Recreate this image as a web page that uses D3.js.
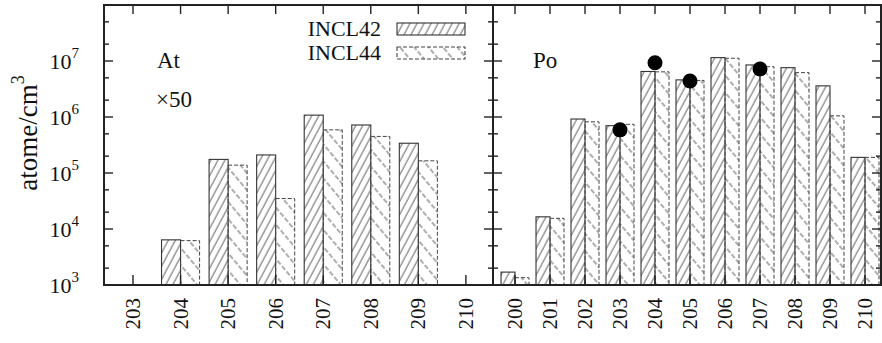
<!DOCTYPE html>
<html>
<head>
<meta charset="utf-8">
<script src="https://cdn.jsdelivr.net/npm/d3@7"></script>
<style>
    body { margin: 0; background: #fff; }
    svg text { font-family: 'Liberation Serif', 'DejaVu Serif', serif; }
</style>
</head>
<body>
<svg id="chart" width="882" height="343"></svg>
<script>
// --- data ---
const seriesNames = ['INCL42', 'INCL44'];

const atCategories = [203, 204, 205, 206, 207, 208, 209, 210];
const atIncl42 = [null, 6.4e3, 1.75e5, 2.1e5, 1.08e6, 7.2e5, 3.4e5, null];
const atIncl44 = [null, 6.2e3, 1.38e5, 3.5e4, 5.9e5, 4.5e5, 1.65e5, null];

const poCategories = [200, 201, 202, 203, 204, 205, 206, 207, 208, 209, 210];
const poIncl42 = [1.7e3, 1.65e4, 9.2e5, 7.0e5, 6.5e6, 4.6e6, 1.15e7, 8.5e6, 7.6e6, 3.6e6, 1.9e5];
const poIncl44 = [1.35e3, 1.55e4, 8.2e5, 7.4e5, 6.4e6, 4.5e6, 1.12e7, 7.9e6, 6.2e6, 1.05e6, 1.9e5];

const poExpCategories = [203, 204, 205, 207];
const poExpValues = [5.9e5, 9.3e6, 4.4e6, 7.2e6];

const yMajorTicks = [1e3, 1e4, 1e5, 1e6, 1e7, 1e8];

// --- layout ---
const TOP = 5;
const BOTTOM = 285;
const LEFT = 104;
const MID = 493;
const RIGHT = 881;
const FONT = "'Liberation Serif', 'DejaVu Serif', serif";

const svg = d3.select('#chart');

const y = d3.scaleLog()
    .domain([1e3, 1e8])
    .range([BOTTOM, TOP]);

const xAt = d3.scaleLinear().domain([202.39, 210.57]).range([LEFT, MID]);
const xPo = d3.scaleLinear().domain([199.371, 210.457]).range([MID, RIGHT]);

// hatch patterns
const defs = svg.append('defs');

const p42 = defs.append('pattern')
    .attr('id', 'hatch42')
    .attr('patternUnits', 'userSpaceOnUse')
    .attr('width', 6.2).attr('height', 20)
    .attr('patternTransform', 'rotate(28)');
p42.append('line')
    .attr('x1', 1).attr('y1', -2).attr('x2', 1).attr('y2', 22)
    .attr('stroke', '#333').attr('stroke-width', 0.8);

const p44 = defs.append('pattern')
    .attr('id', 'hatch44')
    .attr('patternUnits', 'userSpaceOnUse')
    .attr('width', 11).attr('height', 14)
    .attr('patternTransform', 'rotate(-40)');
p44.append('line')
    .attr('x1', 1).attr('y1', 0).attr('x2', 1).attr('y2', 14)
    .attr('stroke', '#333').attr('stroke-width', 0.8)
    .attr('stroke-dasharray', '5,2');

defs.append('clipPath').attr('id', 'clipPo')
    .append('rect').attr('x', MID).attr('y', TOP).attr('width', RIGHT - MID).attr('height', BOTTOM - TOP);

const minorTicks = [];
for (let e = 3; e < 8; e++) {
    minorTicks.push(2 * 10 ** e, 5 * 10 ** e);
}

function drawBars(g, x, cats, v42, v44) {
    const w = 0.4 * (x(1) - x(0));
    const rows = cats.map((c, i) => ({ c, a: v42[i], b: v44[i] }));

    g.selectAll('rect.b42')
        .data(rows.filter(d => d.a != null))
        .enter()
        .append('rect')
        .attr('class', 'b42')
        .attr('x', d => x(d.c) - w)
        .attr('y', d => y(d.a))
        .attr('width', w)
        .attr('height', d => BOTTOM - y(d.a))
        .attr('fill', 'url(#hatch42)')
        .attr('stroke', '#333')
        .attr('stroke-width', 1.1);

    g.selectAll('rect.b44')
        .data(rows.filter(d => d.b != null))
        .enter()
        .append('rect')
        .attr('class', 'b44')
        .attr('x', d => x(d.c))
        .attr('y', d => y(d.b))
        .attr('width', w)
        .attr('height', d => BOTTOM - y(d.b))
        .attr('fill', 'url(#hatch44)')
        .attr('stroke', '#444')
        .attr('stroke-width', 1)
        .attr('stroke-dasharray', '4,2');
}

function drawXTicks(x, cats) {
    const g = svg.append('g');
    g.selectAll('line.top')
        .data(cats)
        .enter()
        .append('line')
        .attr('x1', d => x(d)).attr('x2', d => x(d))
        .attr('y1', TOP).attr('y2', TOP + 9)
        .attr('stroke', '#222').attr('stroke-width', 1.4);
    g.selectAll('line.bot')
        .data(cats)
        .enter()
        .append('line')
        .attr('x1', d => x(d)).attr('x2', d => x(d))
        .attr('y1', BOTTOM).attr('y2', BOTTOM - 10)
        .attr('stroke', '#222').attr('stroke-width', 1.4);
    g.selectAll('text')
        .data(cats)
        .enter()
        .append('text')
        .attr('transform', d => `translate(${x(d) + 7},298) rotate(-90)`)
        .attr('text-anchor', 'end')
        .attr('font-family', FONT)
        .attr('font-size', 21)
        .attr('fill', '#111')
        .text(d => d);
}

function drawYTicks(xPos, dirs) {
    const g = svg.append('g');
    dirs.forEach(dir => {
        g.selectAll(null)
            .data(yMajorTicks)
            .enter()
            .append('line')
            .attr('x1', xPos).attr('x2', xPos + dir * 9)
            .attr('y1', d => y(d)).attr('y2', d => y(d))
            .attr('stroke', '#222').attr('stroke-width', 1.4);
        g.selectAll(null)
            .data(minorTicks)
            .enter()
            .append('line')
            .attr('x1', xPos).attr('x2', xPos + dir * 5)
            .attr('y1', d => y(d)).attr('y2', d => y(d))
            .attr('stroke', '#222').attr('stroke-width', 1.4);
    });
}

// bars
drawBars(svg.append('g'), xAt, atCategories, atIncl42, atIncl44);
drawBars(svg.append('g').attr('clip-path', 'url(#clipPo)'), xPo, poCategories, poIncl42, poIncl44);

// measured points
svg.append('g')
    .selectAll('circle')
    .data(poExpCategories.map((c, i) => ({ c, v: poExpValues[i] })))
    .enter()
    .append('circle')
    .attr('cx', d => xPo(d.c))
    .attr('cy', d => y(d.v))
    .attr('r', 7.5)
    .attr('fill', '#000');

// ticks
drawXTicks(xAt, atCategories);
drawXTicks(xPo, poCategories);
drawYTicks(LEFT, [1]);
drawYTicks(MID, [1, -1]);
drawYTicks(RIGHT, [-1]);

// frame
svg.append('rect')
    .attr('x', LEFT).attr('y', TOP)
    .attr('width', RIGHT - LEFT).attr('height', BOTTOM - TOP)
    .attr('fill', 'none').attr('stroke', '#222').attr('stroke-width', 2);
svg.append('line')
    .attr('x1', MID).attr('x2', MID).attr('y1', TOP).attr('y2', BOTTOM)
    .attr('stroke', '#222').attr('stroke-width', 2);

// y tick labels  10^n
const yLab = svg.append('g')
    .selectAll('text')
    .data(yMajorTicks.slice(0, 5))
    .enter()
    .append('text')
    .attr('x', 79)
    .attr('y', d => y(d) + 8)
    .attr('text-anchor', 'end')
    .attr('font-family', FONT)
    .attr('font-size', 22)
    .attr('fill', '#111');
yLab.append('tspan').text('10');
yLab.append('tspan')
    .attr('font-size', 15)
    .attr('dy', -11)
    .text(d => Math.round(Math.log10(d)));

// y axis title
const yTitle = svg.append('text')
    .attr('transform', 'translate(37,133) rotate(-90)')
    .attr('text-anchor', 'middle')
    .attr('font-family', FONT)
    .attr('font-size', 27)
    .attr('fill', '#111');
yTitle.append('tspan').text('atome/cm');
yTitle.append('tspan').attr('font-size', 18).attr('dy', -13).text('3');

// panel labels
const label = (x, yPos, txt) => svg.append('text')
    .attr('x', x).attr('y', yPos)
    .attr('font-family', FONT)
    .attr('font-size', 23)
    .attr('fill', '#111')
    .text(txt);
label(157, 68, 'At');
label(156, 107, '\u00d750');
label(533, 68, 'Po');

// legend
const legend = svg.append('g');
seriesNames.forEach((name, i) => {
    const ly = 23 + i * 24;
    legend.append('text')
        .attr('x', 381).attr('y', ly + 13)
        .attr('text-anchor', 'end')
        .attr('font-family', FONT)
        .attr('font-size', 22)
        .attr('fill', '#111')
        .text(name);
    legend.append('rect')
        .attr('x', 397).attr('y', ly)
        .attr('width', 68).attr('height', 12)
        .attr('fill', i === 0 ? 'url(#hatch42)' : 'url(#hatch44)')
        .attr('stroke', i === 0 ? '#333' : '#444')
        .attr('stroke-width', 1.1)
        .attr('stroke-dasharray', i === 0 ? null : '4,2');
});
</script>
</body>
</html>
